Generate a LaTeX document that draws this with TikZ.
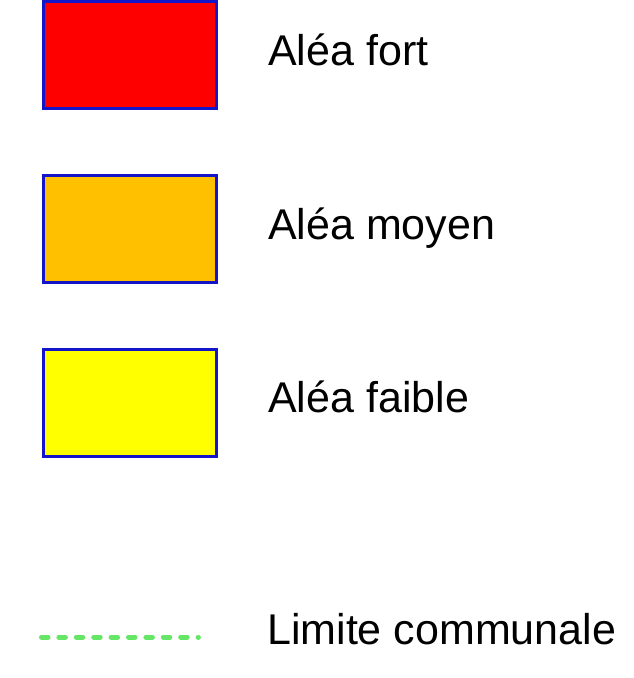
\documentclass[tikz,border=0pt]{standalone}
\usepackage{fontspec}
\setmainfont{Liberation Sans}
\usepackage{tikz}
\usetikzlibrary{positioning}
\definecolor{aleaRouge}{RGB}{255,0,0}
\definecolor{aleaOrange}{RGB}{255,192,0}
\definecolor{aleaJaune}{RGB}{255,255,0}
\definecolor{bordBleu}{RGB}{20,20,200}
\definecolor{vertLimite}{RGB}{102,230,102}
\tikzset{legendbox/.style={draw=bordBleu,line width=3pt,rectangle,
           minimum width=173.3pt,minimum height=107pt,inner sep=0pt},
         legendtext/.style={anchor=base west,inner sep=0pt,
           font=\fontsize{43}{50}\selectfont},
         limite/.style={draw=vertLimite,line width=5pt,line cap=round,
           dash pattern=on 6.5pt off 10.9pt}}

\begin{document}
\begin{tikzpicture}[x=1pt,y=-1pt]
  \useasboundingbox (0,0) rectangle (634,678);
  % zones d'aléa
  \node[legendbox,fill=aleaRouge]  (fort)   at (130,55)  {};
  \node[legendbox,fill=aleaOrange] (moyen)  at (130,229) {};
  \node[legendbox,fill=aleaJaune]  (faible) at (130,403) {};
  \node[legendtext] (fortlbl)   at (268,65)  {Aléa fort};
  \node[legendtext] (moyenlbl)  at (268,239) {Aléa moyen};
  \node[legendtext] (faiblelbl) at (268,412) {Aléa faible};
  % limite communale
  \coordinate (lim-a) at (41.5,637);
  \coordinate (lim-b) at (198.4,637);
  \draw[limite] (lim-a) -- (lim-b);
  \node[legendtext] (limlbl) at (267,644) {Limite communale};
\end{tikzpicture}
\end{document}
